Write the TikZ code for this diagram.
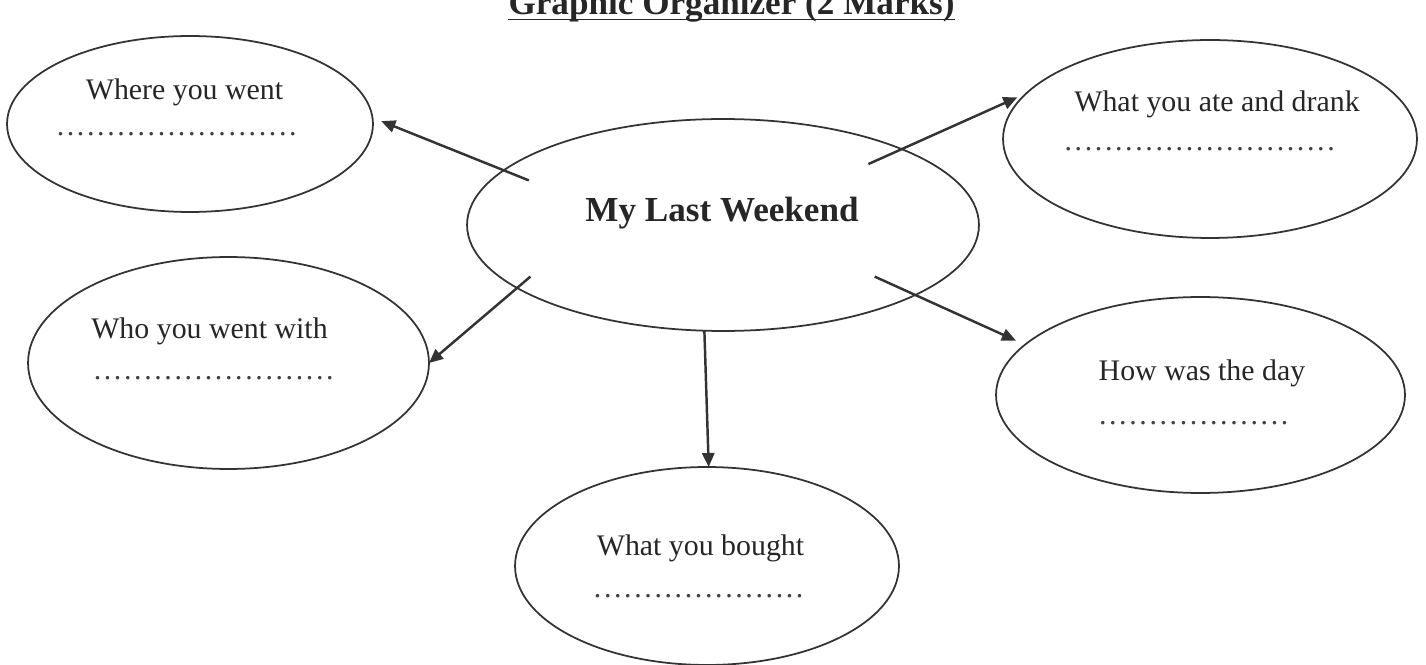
\documentclass[tikz,border=0pt]{standalone}
\usepackage{fontspec}
\setmainfont{Liberation Serif}
\usetikzlibrary{arrows.meta,shapes.geometric}

\newcommand{\dotrow}[1]{\foreach \i in {1,...,#1}{.\kern1.5pt}}

\begin{document}
\begin{tikzpicture}[x=0.02cm, y=-0.02cm,
    bubble/.style={ellipse, draw=black!80, line width=1pt, inner sep=0pt, outer sep=0pt},
    ask/.style={anchor=base, inner sep=0pt, text=black!85, font=\fontsize{17}{20}\selectfont},
    blank/.style={ask, text=black!75},
    link/.style={draw=black!80, line width=1.4pt, -{Triangle[length=8pt,width=7pt]}}]
    \useasboundingbox (0,0) rectangle (1426,665);

    % title, cut at the top edge
    \node[anchor=base, inner sep=0pt, text=black!85, font=\bfseries\fontsize{20}{24}\selectfont] (title) at (731.5,15) {Graphic Organizer (2 Marks)};
    \draw[line width=1.1pt, black!85] ([yshift=-0.09cm]title.base west) -- ([yshift=-0.09cm]title.base east);

    % centre
    \node[bubble, minimum width=10.24cm, minimum height=4.24cm] (hub) at (723,225) {};
    \node[ask, font=\bfseries\fontsize{20}{24}\selectfont] (hub-t) at (722,222) {My Last Weekend};

    % the five questions
    \node[bubble, minimum width=7.32cm, minimum height=3.52cm] (where) at (190,124) {};
    \node[ask] (where-q) at (184.5,100) {Where you went};
    \node[blank] (where-a) at (178,136) {\dotrow{24}};

    \node[bubble, minimum width=8.28cm, minimum height=3.96cm] (ate) at (1210,139) {};
    \node[ask] (ate-q) at (1217,112) {What you ate and drank};
    \node[blank] (ate-a) at (1201,151) {\dotrow{27}};

    \node[bubble, minimum width=8.02cm, minimum height=4.24cm] (who) at (228.5,363) {};
    \node[ask] (who-q) at (209.5,338) {Who you went with};
    \node[blank] (who-a) at (215,379) {\dotrow{24}};

    \node[bubble, minimum width=8.18cm, minimum height=3.92cm] (how) at (1200.5,395) {};
    \node[ask] (how-q) at (1202,380) {How was the day};
    \node[blank] (how-a) at (1195,424) {\dotrow{19}};

    \node[bubble, minimum width=7.68cm, minimum height=3.96cm] (bought) at (707,566) {};
    \node[ask] (bought-q) at (700.5,555) {What you bought};
    \node[blank] (bought-a) at (700,597) {\dotrow{21}};

    % arrows start inside the centre
    \draw[link, shorten <=-0.54cm, shorten >=0.19cm] (hub.166.3) -- (where.2.8);
    \draw[link, shorten <=-0.73cm, shorten >=0.2cm] (hub.23.3) -- (ate.166.9);
    \draw[link, shorten <=-0.35cm] (hub.197.5) -- (who.east);
    \draw[link, shorten <=-0.89cm, shorten >=0.2cm] (hub.340.4) -- (how.164.3);
    \draw[link] (hub.260.9) -- (bought.89);
\end{tikzpicture}
\end{document}
